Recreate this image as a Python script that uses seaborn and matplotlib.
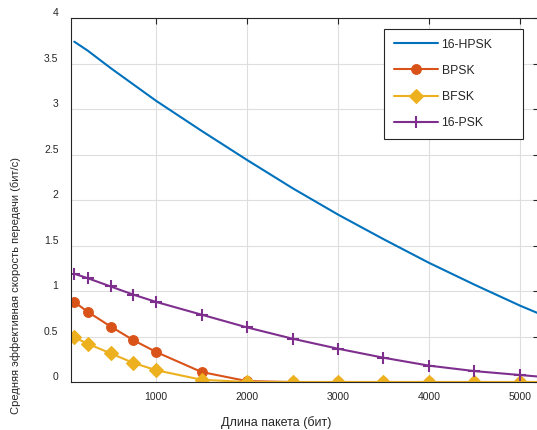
import numpy as np
import pandas as pd
import matplotlib
matplotlib.use("Agg")
import matplotlib.pyplot as plt
import seaborn as sns

# ---- data ----
packet_len = [100, 250, 500, 750, 1000, 1500, 2000, 2500, 3000, 3500, 4000, 4500, 5000, 5500]
hpsk16 = [3.74, 3.64, 3.45, 3.27, 3.09, 2.76, 2.44, 2.13, 1.84, 1.57, 1.31, 1.07, 0.84, 0.63]
bpsk = [0.88, 0.77, 0.61, 0.46, 0.33, 0.11, 0.01, 0.0, 0.0, 0.0, 0.0, 0.0, 0.0, 0.0]
bfsk = [0.49, 0.42, 0.315, 0.21, 0.13, 0.025, 0.0, 0.0, 0.0, 0.0, 0.0, 0.0, 0.0, 0.0]
psk16 = [1.19, 1.14, 1.05, 0.96, 0.88, 0.74, 0.60, 0.476, 0.366, 0.267, 0.18, 0.12, 0.077, 0.035]

series_names = ["16-HPSK", "BPSK", "BFSK", "16-PSK"]
x_ticks = [1000, 2000, 3000, 4000, 5000]
y_ticks = [0, 0.5, 1, 1.5, 2, 2.5, 3, 3.5, 4]
y_ticklabels = ["0", "0.5", "1", "1.5", "2", "2.5", "3", "3.5", "4"]
xlabel = "Длина пакета (бит)"
ylabel = "Средняя эффективная скорость передачи (бит/с)"

sns.set_style("white")
plt.rcParams["font.family"] = ["Liberation Sans", "DejaVu Sans"]

fig = plt.figure(figsize=(5.37, 4.30), dpi=100)
ax = fig.add_axes([0.1322, 0.1116, 0.8715, 0.8465])

colors = ["#0072BD", "#D95319", "#EDB120", "#7E2F8E"]
markers = [None, "o", "D", "+"]
msizes = [0, 7, 7, 8]
data = [hpsk16, bpsk, bfsk, psk16]

for name, vals, c, m, ms in zip(series_names, data, colors, markers, msizes):
    df = pd.DataFrame({"x": packet_len, "y": vals})
    kw = dict(x="x", y="y", data=df, ax=ax, color=c, linewidth=1.5, label=name)
    if m is not None:
        kw.update(marker=m, markersize=ms, markerfacecolor=c,
                  markeredgecolor=c, markeredgewidth=1.5 if m == "+" else 0.8)
    sns.lineplot(**kw)

ax.set_xlim(64, 5210)
ax.set_ylim(0, 4)
ax.set_xticks(x_ticks)
ax.set_yticks(y_ticks)
ax.set_yticklabels(y_ticklabels, va="bottom")
ax.grid(True, color="#dedede", linewidth=0.8)
ax.set_axisbelow(True)
for s in ax.spines.values():
    s.set_color("#262626")
    s.set_linewidth(0.8)
    s.set_visible(True)
ax.tick_params(axis="both", direction="in", length=4, width=0.8, color="#262626",
               labelsize=7.5, labelcolor="#262626", top=True, right=True)
ax.tick_params(axis="y", pad=9)
ax.tick_params(axis="x", pad=7)
ax.set_xlabel(xlabel, fontsize=9.0, color="#262626")
ax.set_ylabel(ylabel, fontsize=8.0, color="#262626")
ax.xaxis.set_label_coords(0.438, -0.094)
ax.yaxis.set_label_coords(-0.106, 0.266)

leg = ax.legend(loc="upper left", bbox_to_anchor=(0.669, 0.670, 0.297, 0.30),
                mode="expand", fontsize=8.8, handlelength=3.6, handletextpad=0.3,
                labelspacing=1.15, borderpad=0.8, borderaxespad=0, fancybox=False,
                framealpha=1, edgecolor="#262626")
leg.get_frame().set_linewidth(0.8)

fig.savefig("out.png", dpi=100)
